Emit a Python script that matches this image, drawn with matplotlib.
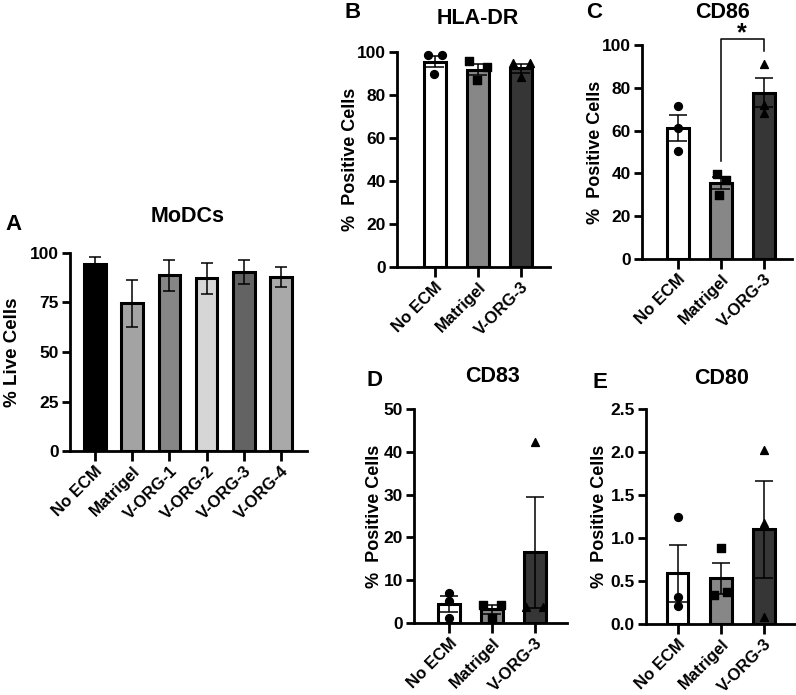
import matplotlib
matplotlib.use('Agg')
import matplotlib.pyplot as plt
import numpy as np

plt.rcParams['font.family'] = ['Liberation Sans', 'DejaVu Sans']
plt.rcParams['font.weight'] = 'bold'
plt.rcParams['axes.labelweight'] = 'bold'

# panel A - viability
a_groups = ['No ECM', 'Matrigel', 'V-ORG-1', 'V-ORG-2', 'V-ORG-3', 'V-ORG-4']
a_mean = [94.3, 74.6, 88.7, 87.2, 90.6, 87.8]
a_err = [3.6, 11.8, 8.0, 7.8, 6.1, 5.0]
a_colors = ['#000000', '#a3a3a3', '#868686', '#d6d6d6', '#636363', '#a9a9a9']

# panels B-E - surface markers
groups = ['No ECM', 'Matrigel', 'V-ORG-3']
colors = ['#ffffff', '#878787', '#363636']
markers = ['o', 's', '^']

hla_mean = [95.4, 91.8, 92.4]
hla_err = [2.6, 2.6, 2.2]
hla_pts = [[98.6, 98.4, 89.8], [95.8, 93.2, 86.8], [95.0, 95.0, 88.2]]

cd86_mean = [61.2, 35.6, 77.6]
cd86_err = [6.0, 2.7, 6.8]
cd86_pts = [[71.4, 61.4, 50.5], [39.8, 37.0, 30.0], [91.0, 71.9, 68.4]]

cd83_mean = [4.4, 3.2, 16.5]
cd83_err = [1.9, 1.1, 12.9]
cd83_pts = [[7.1, 5.2, 1.2], [4.3, 4.3, 1.1], [42.2, 3.7, 3.7]]

cd80_mean = [0.59, 0.53, 1.10]
cd80_err = [0.33, 0.18, 0.56]
cd80_pts = [[1.25, 0.31, 0.21], [0.88, 0.34, 0.37], [2.02, 1.18, 0.085]]

W, H = 796, 695
fig = plt.figure(figsize=(W / 100, H / 100), dpi=100)


def px_axes(x0, y0, x1, y1):
    # pixel box (top-left origin) -> figure fraction
    return fig.add_axes([x0 / W, 1 - y1 / H, (x1 - x0) / W, (y1 - y0) / H])


def px_text(x, y, s, size, va='center'):
    fig.text(x / W, 1 - y / H, s, fontsize=size, fontweight='bold',
             ha='center', va=va)


def style(ax, ylim, yticks, ytl, xlim, labels, ylabel, lab_x):
    ax.set_ylim(*ylim)
    ax.set_xlim(*xlim)
    ax.set_yticks(yticks)
    ax.set_yticklabels(ytl, fontweight='bold', fontsize=12.5)
    ax.set_xticks(range(len(labels)))
    ax.set_xticklabels(labels, rotation=45, ha='right', va='top',
                       rotation_mode='anchor', fontsize=12, fontweight='bold')
    for s in ['top', 'right']:
        ax.spines[s].set_visible(False)
    for s in ['left', 'bottom']:
        ax.spines[s].set_linewidth(2.0)
    ax.tick_params(width=2.0, length=6, pad=2)
    ax.tick_params(axis='x', length=7, pad=2)
    ax.set_ylabel(ylabel, fontsize=13, fontweight='bold')
    ax.yaxis.set_label_coords(lab_x, 0.5)


def marker_panel(ax, mean, err, pts, offsets):
    x = np.arange(len(mean))
    ax.bar(x, mean, width=0.5, color=colors, edgecolor='black', linewidth=2.2, zorder=2)
    ax.errorbar(x, mean, yerr=err, fmt='none', ecolor='black', elinewidth=1.1,
                capsize=6.5, capthick=1.1, zorder=3)
    for i, p in enumerate(pts):
        ax.scatter(np.full(3, x[i]) + np.array(offsets[i]), p, marker=markers[i],
                   s=32, color='black', zorder=4, clip_on=False)


# A
axA = px_axes(70, 253, 307, 451)
xa = np.arange(len(a_groups))
axA.bar(xa, a_mean, width=0.58, color=a_colors, edgecolor='black', linewidth=2.2, zorder=2)
axA.errorbar(xa, a_mean, yerr=a_err, fmt='none', ecolor='black', elinewidth=1.1,
             capsize=4, capthick=1.1, zorder=3)
style(axA, (0, 100), [0, 25, 50, 75, 100], ['0', '25', '50', '75', '100'],
      (-0.67, 5.7), a_groups, '% Live Cells', -0.205)
axA.yaxis.label.set_size(13.5)

# B
axB = px_axes(397, 52, 550, 267)
marker_panel(axB, hla_mean, hla_err, hla_pts,
             [[-0.17, 0.17, -0.03], [-0.2, 0.2, -0.02], [-0.2, 0.2, 0.0]])
style(axB, (0, 100), [0, 20, 40, 60, 80, 100], ['0', '20', '40', '60', '80', '100'],
      (-0.88, 2.67), groups, '%  Positive Cells', -0.25)

# C
axC = px_axes(642, 45, 792, 259)
marker_panel(axC, cd86_mean, cd86_err, cd86_pts,
             [[0, 0, 0], [-0.1, 0.12, -0.05], [0, 0, 0]])
style(axC, (0, 100), [0, 20, 40, 60, 80, 100], ['0', '20', '40', '60', '80', '100'],
      (-0.83, 2.65), groups, '%  Positive Cells', -0.255)
# significance bracket Matrigel vs V-ORG-3
axC.plot([1, 1, 2, 2], [46, 103, 103, 97], color='black', lw=1.1, clip_on=False, zorder=5)

# D
axD = px_axes(414, 409, 567, 623)
marker_panel(axD, cd83_mean, cd83_err, cd83_pts,
             [[0, 0, 0], [-0.2, 0.2, 0.0], [0, -0.2, 0.2]])
style(axD, (0, 50), [0, 10, 20, 30, 40, 50], ['0', '10', '20', '30', '40', '50'],
      (-0.82, 2.75), groups, '%  Positive Cells', -0.2)

# E
axE = px_axes(646, 409, 796, 624)
marker_panel(axE, cd80_mean, cd80_err, cd80_pts,
             [[0, 0, 0], [0, -0.15, 0.15], [0, 0, 0]])
style(axE, (0, 2.5), [0, 0.5, 1.0, 1.5, 2.0, 2.5], ['0.0', '0.5', '1.0', '1.5', '2.0', '2.5'],
      (-0.73, 2.74), groups, '%  Positive Cells', -0.25)

# titles and panel letters
for t, (tx, ty) in zip(['MoDCs', 'HLA-DR', 'CD86', 'CD83', 'CD80'],
                       [(188, 216), (478, 19), (722, 12), (492, 376), (722, 378)]):
    px_text(tx, ty, t, 15.5)
for letter, (lx, ly) in zip('ABCDE', [(13, 224), (353, 12), (594, 12), (374, 381), (600, 383)]):
    px_text(lx, ly, letter, 16)
# significance star, sits between title and bracket
px_text(742, 40, '*', 18, va='baseline')

fig.savefig('out.png', dpi=100)
